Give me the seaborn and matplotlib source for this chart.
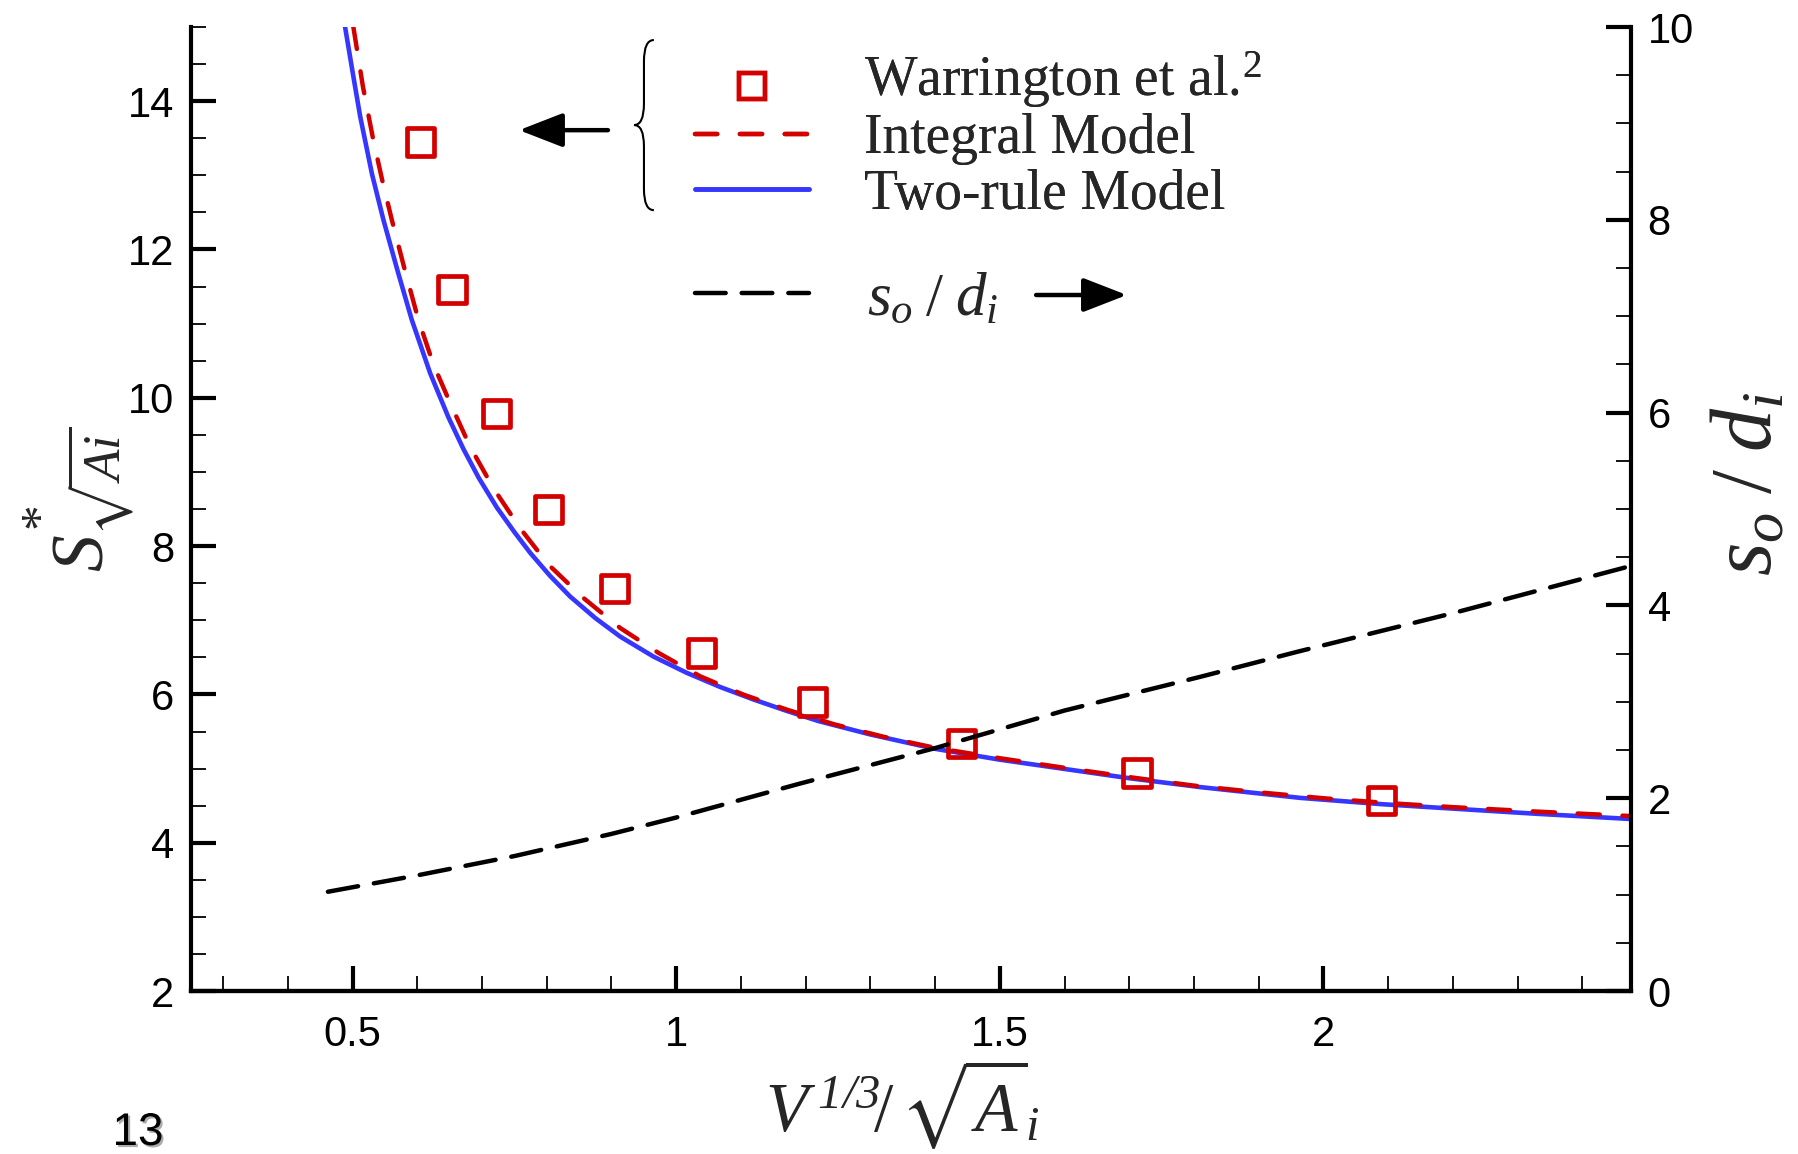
import numpy as np
import pandas as pd
import matplotlib
matplotlib.use("Agg")
import matplotlib.pyplot as plt
import seaborn as sns
from matplotlib.ticker import MultipleLocator, FuncFormatter
from matplotlib.path import Path
from matplotlib.patches import PathPatch
from matplotlib.lines import Line2D
import matplotlib.patheffects as pe

# ---------------- data ----------------
warr_x = [0.605, 0.654, 0.722, 0.803, 0.905, 1.039, 1.211, 1.441, 1.712, 2.090]
warr_y = [13.45, 11.46, 9.79, 8.49, 7.43, 6.56, 5.90, 5.34, 4.94, 4.57]

integral_x = [0.5013, 0.516, 0.532, 0.546, 0.5607, 0.58, 0.6018, 0.625, 0.6508, 0.6817,
              0.7177, 0.759, 0.8027, 0.8568, 0.9135, 0.9727, 1.0372, 1.104, 1.171,
              1.243, 1.32, 1.40, 1.50, 1.60, 1.70, 1.80, 1.90, 2.00, 2.10, 2.20,
              2.33, 2.475]
integral_y = [15.0, 14.20, 13.48, 12.93, 12.40, 11.75, 11.05, 10.45, 9.93, 9.34,
              8.78, 8.24, 7.75, 7.30, 6.896, 6.56, 6.244, 5.997, 5.795,
              5.60, 5.43, 5.28, 5.14, 5.01, 4.885, 4.77, 4.68, 4.60, 4.535, 4.48,
              4.42, 4.36]

tworule_x = [0.4885, 0.50, 0.5117, 0.53, 0.5477, 0.57, 0.5916, 0.62, 0.648, 0.6713,
             0.695, 0.723, 0.75, 0.7744, 0.805, 0.8362, 0.875, 0.9135, 0.965, 1.0166,
             1.068, 1.12, 1.17, 1.22, 1.30, 1.3977, 1.50, 1.604, 1.70, 1.81,
             1.964, 2.09, 2.20, 2.33, 2.475]
tworule_y = [15.00, 14.40, 13.80, 13.02, 12.40, 11.70, 11.05, 10.33, 9.74, 9.31,
             8.92, 8.52, 8.19, 7.91, 7.60, 7.32, 7.03, 6.78, 6.51, 6.29,
             6.10, 5.93, 5.78, 5.64, 5.46, 5.27, 5.12, 4.99, 4.87, 4.75,
             4.605, 4.52, 4.46, 4.39, 4.32]

sodi_x = [0.462, 0.60, 0.75, 0.90, 1.00, 1.19, 1.40, 1.60, 1.81, 1.96, 2.20, 2.475]
sodi_y = [1.03, 1.20, 1.40, 1.63, 1.80, 2.15, 2.52, 2.91, 3.26, 3.52, 3.92, 4.41]

x_major = [0.5, 1.0, 1.5, 2.0]
yl_major = [2, 4, 6, 8, 10, 12, 14]
yr_major = [0, 2, 4, 6, 8, 10]

legend_labels = ["Warrington et al.$^{2}$", "Integral Model", "Two-rule Model"]
sodi_label = r"$s_o\;/\;d_i$"
page_number = "13"

RED = "#d40000"
BLUE = "#3636ff"

# ---------------- style ----------------
sns.set_theme(style="white")
plt.rcParams["font.family"] = ["Liberation Sans", "DejaVu Sans"]
plt.rcParams["mathtext.fontset"] = "custom"
plt.rcParams["mathtext.rm"] = "Liberation Serif"
plt.rcParams["mathtext.it"] = "Liberation Serif:italic"
plt.rcParams["mathtext.bf"] = "Liberation Serif:bold"
plt.rcParams["mathtext.sf"] = "Liberation Serif:italic"
plt.rcParams["mathtext.fallback"] = "stix"

fig = plt.figure(figsize=(17.99, 11.54), dpi=100)
ax = fig.add_axes([0.106, 0.1412, 0.8006, 0.8354])
ax2 = ax.twinx()

df_warr = pd.DataFrame({"x": warr_x, "y": warr_y})
df_int = pd.DataFrame({"x": integral_x, "y": integral_y})
df_two = pd.DataFrame({"x": tworule_x, "y": tworule_y})
df_sodi = pd.DataFrame({"x": sodi_x, "y": sodi_y})

RED_DASH = (0, (5.0, 5.1))
BLK_DASH = (0, (6.9, 3.6))

sns.lineplot(data=df_two, x="x", y="y", ax=ax, color=BLUE, lw=3.3,
             estimator=None, sort=False, zorder=3)
sns.lineplot(data=df_int, x="x", y="y", ax=ax, color=RED, lw=3.2,
             estimator=None, sort=False, linestyle=RED_DASH,
             dash_capstyle="round", zorder=4)
sns.scatterplot(data=df_warr, x="x", y="y", ax=ax, marker="s", s=390,
                fc="none", ec=RED, linewidth=3.4, zorder=5)
sns.lineplot(data=df_sodi, x="x", y="y", ax=ax2, color="black", lw=3.2,
             estimator=None, sort=False, linestyle=BLK_DASH,
             dash_capstyle="round")

# ---------------- axes ----------------
ax.set_xlim(0.25, 2.475)
ax.set_ylim(2, 15)
ax2.set_ylim(0, 10)

fmt = FuncFormatter(lambda v, p: f"{v:g}")
ax.set_xticks(x_major)
ax.xaxis.set_major_formatter(fmt)
ax.xaxis.set_minor_locator(MultipleLocator(0.1))
ax.set_yticks(yl_major)
ax.yaxis.set_major_formatter(fmt)
ax.yaxis.set_minor_locator(MultipleLocator(0.5))
ax2.set_yticks(yr_major)
ax2.yaxis.set_major_formatter(fmt)
ax2.yaxis.set_minor_locator(MultipleLocator(0.5))

for a in (ax, ax2):
    a.spines["top"].set_visible(False)
    for s in ("left", "right", "bottom"):
        a.spines[s].set_linewidth(3.0)
        a.spines[s].set_color("black")
    a.tick_params(which="major", direction="in", length=18, width=3.0,
                  labelsize=30, pad=12, color="black", labelcolor="black")
    a.tick_params(which="minor", direction="in", length=11, width=1.3,
                  color="black")
ax.tick_params(axis="x", which="major", pad=17)
ax.tick_params(axis="y", which="both", left=True, right=False)
ax.tick_params(axis="x", which="both", bottom=True, top=False)
ax2.tick_params(axis="y", which="both", right=True, left=False)
ax2.spines["left"].set_visible(False)
ax.spines["right"].set_visible(False)

ax.set_xlabel(r"$V^{\,\mathsf{1/3}}\!/\,\sqrt{A}_{i}$", fontsize=50, ha="center", va="center")
ax.xaxis.set_label_coords(0.494, -0.117)
ax.set_ylabel(r"$S^{*}_{\sqrt{Ai}}$", fontsize=53, ha="center", va="center")
ax.yaxis.set_label_coords(-0.077, 0.51)
ax2.set_ylabel(sodi_label, fontsize=62, ha="center", va="center", rotation=90)
ax2.yaxis.set_label_coords(1.0826, 0.526)
ax.grid(False)
ax2.grid(False)

# ---------------- legend ----------------
serif = {"family": ["Liberation Serif", "DejaVu Serif"], "size": 40}
h1 = [Line2D([], [], marker="s", ms=19, mfc="none", mec=RED, mew=3.2, ls="none"),
      Line2D([], [], color=RED, lw=3.2, ls=RED_DASH, dash_capstyle="round"),
      Line2D([], [], color=BLUE, lw=3.3)]
leg1 = ax.legend(h1, legend_labels, loc="upper left", bbox_to_anchor=(0.350, 0.977),
                 frameon=False, borderpad=0, borderaxespad=0, handlelength=2.05,
                 handletextpad=1.0, labelspacing=0.06, prop=serif)
ax.add_artist(leg1)
mk = leg1.legend_handles[0]
mk.set_ydata(np.asarray(mk.get_ydata(), dtype=float) - 7)

serif2 = {"family": ["Liberation Serif", "DejaVu Serif"], "size": 44}
h2 = [Line2D([], [], color="black", lw=3.2, ls=BLK_DASH, dash_capstyle="round")]
leg2 = ax2.legend(h2, [sodi_label], loc="center left", bbox_to_anchor=(0.350, 0.717),
                  frameon=False, borderpad=0, borderaxespad=0, handlelength=1.87,
                  handletextpad=0.95, prop=serif2)

# brace
xt, xm, xe = 0.3078, 0.3147, 0.3216
yt, ym, yb, dy = 0.9865, 0.8983, 0.810, 0.022
verts = [(xe, yt), (xm, yt), (xm, yt - dy), (xm, ym + dy), (xm, ym), (xt, ym),
         (xm, ym), (xm, ym - dy), (xm, yb + dy), (xm, yb), (xe, yb)]
codes = [Path.MOVETO, Path.CURVE3, Path.CURVE3, Path.LINETO, Path.CURVE3, Path.CURVE3,
         Path.CURVE3, Path.CURVE3, Path.LINETO, Path.CURVE3, Path.CURVE3]
ax.add_patch(PathPatch(Path(verts, codes), transform=ax.transAxes, fc="none",
                       ec="black", lw=1.5, clip_on=False))

# arrows
arrow_kw = dict(arrowstyle="-|>,head_length=0.9,head_width=0.35", color="black",
                lw=3.2, shrinkA=0, shrinkB=0, mutation_scale=30)
ax.annotate("", xy=(0.228, 0.893), xytext=(0.2897, 0.893), xycoords="axes fraction",
            textcoords="axes fraction", arrowprops=arrow_kw)
ax.annotate("", xy=(0.650, 0.722), xytext=(0.587, 0.722), xycoords="axes fraction",
            textcoords="axes fraction", arrowprops=arrow_kw)

# page number
fig.text(138 / 1799, 1 - 1133 / 1154, page_number, fontsize=33, ha="center", va="center",
         family=["Liberation Sans", "DejaVu Sans"], color="black",
         path_effects=[pe.withSimplePatchShadow(offset=(1.5, -1.5), shadow_rgbFace="#999999",
                                                 alpha=0.8)])

fig.savefig("out.png", dpi=100)
